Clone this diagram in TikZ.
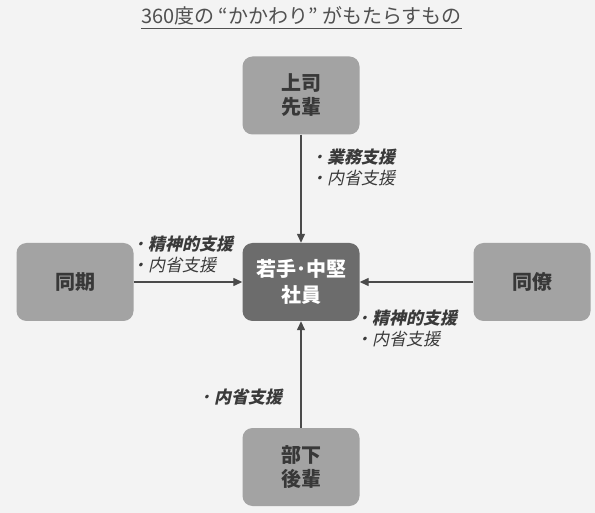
\documentclass[tikz,border=0pt]{standalone}
\usepackage{fontspec}
\setmainfont{Noto Sans CJK JP}
\newfontfamily\jp{Noto Sans CJK JP}
\newfontfamily\jpit{Noto Sans CJK JP}[FakeSlant=0.22]
\usetikzlibrary{arrows.meta}
\definecolor{bg}{HTML}{F3F3F3}
\definecolor{obox}{HTML}{A3A3A3}
\definecolor{cbox}{HTML}{6C6C6C}
\definecolor{otext}{HTML}{383838}
\definecolor{ln}{HTML}{4A4A4A}
\definecolor{lbl}{HTML}{3A3A3A}
\definecolor{ttl}{HTML}{505050}
\tikzset{
  outerbox/.style={rectangle, rounded corners=10pt, fill=obox, minimum width=117pt, minimum height=78pt,
    align=center, text=otext, font=\jp\bfseries\fontsize{20}{24}\selectfont, inner sep=0pt},
  centerbox/.style={outerbox, fill=cbox, text=white, font=\jp\bfseries\fontsize{20}{26}\selectfont},
  arr/.style={draw=ln, line width=1.3pt, -{Triangle[length=9pt,width=8pt]}},
  lab/.style={anchor=west, align=left, text=lbl, font=\jpit\fontsize{17}{21}\selectfont, inner sep=0pt}
}
\begin{document}
\begin{tikzpicture}[x=1pt,y=-1pt]
\useasboundingbox (0,0) rectangle (595,513);
\fill[bg] (0,0) rectangle (595,513);
% title
\node[text=ttl, font=\jp\fontsize{20}{24}\selectfont, inner sep=0pt] (title) at (301.5,16) {360度の “かかわり” がもたらすもの};
\draw[ttl, line width=0.9pt] (title.south west) ++(0,3) coordinate (ul1) -- (ul1 -| title.south east);
% boxes
\node[outerbox] (boss) at (301,95.5) {上司\\先輩};
\node[outerbox] (peerL) at (75,282) {同期};
\node[centerbox] (me) at (301,282) {若手･中堅\\社員};
\node[outerbox] (peerR) at (532,282) {同僚};
\node[outerbox] (sub) at (301,467) {部下\\後輩};
% arrows
\draw[arr] (boss) -- (me);
\draw[arr] (peerL) -- (me);
\draw[arr] (peerR) -- (me);
\draw[arr] (sub) -- (me);
% labels
\node[lab] (lt) at (310,167) {{\upshape・}{\bfseries 業務支援}\\{\upshape・}内省支援};
\node[lab] (ll) at (131,254) {{\upshape・}{\bfseries 精神的支援}\\{\upshape・}内省支援};
\node[lab] (lr) at (355,328) {{\upshape・}{\bfseries 精神的支援}\\{\upshape・}内省支援};
\node[lab] (lb) at (197,397) {{\upshape・}{\bfseries 内省支援}};
\end{tikzpicture}
\end{document}
